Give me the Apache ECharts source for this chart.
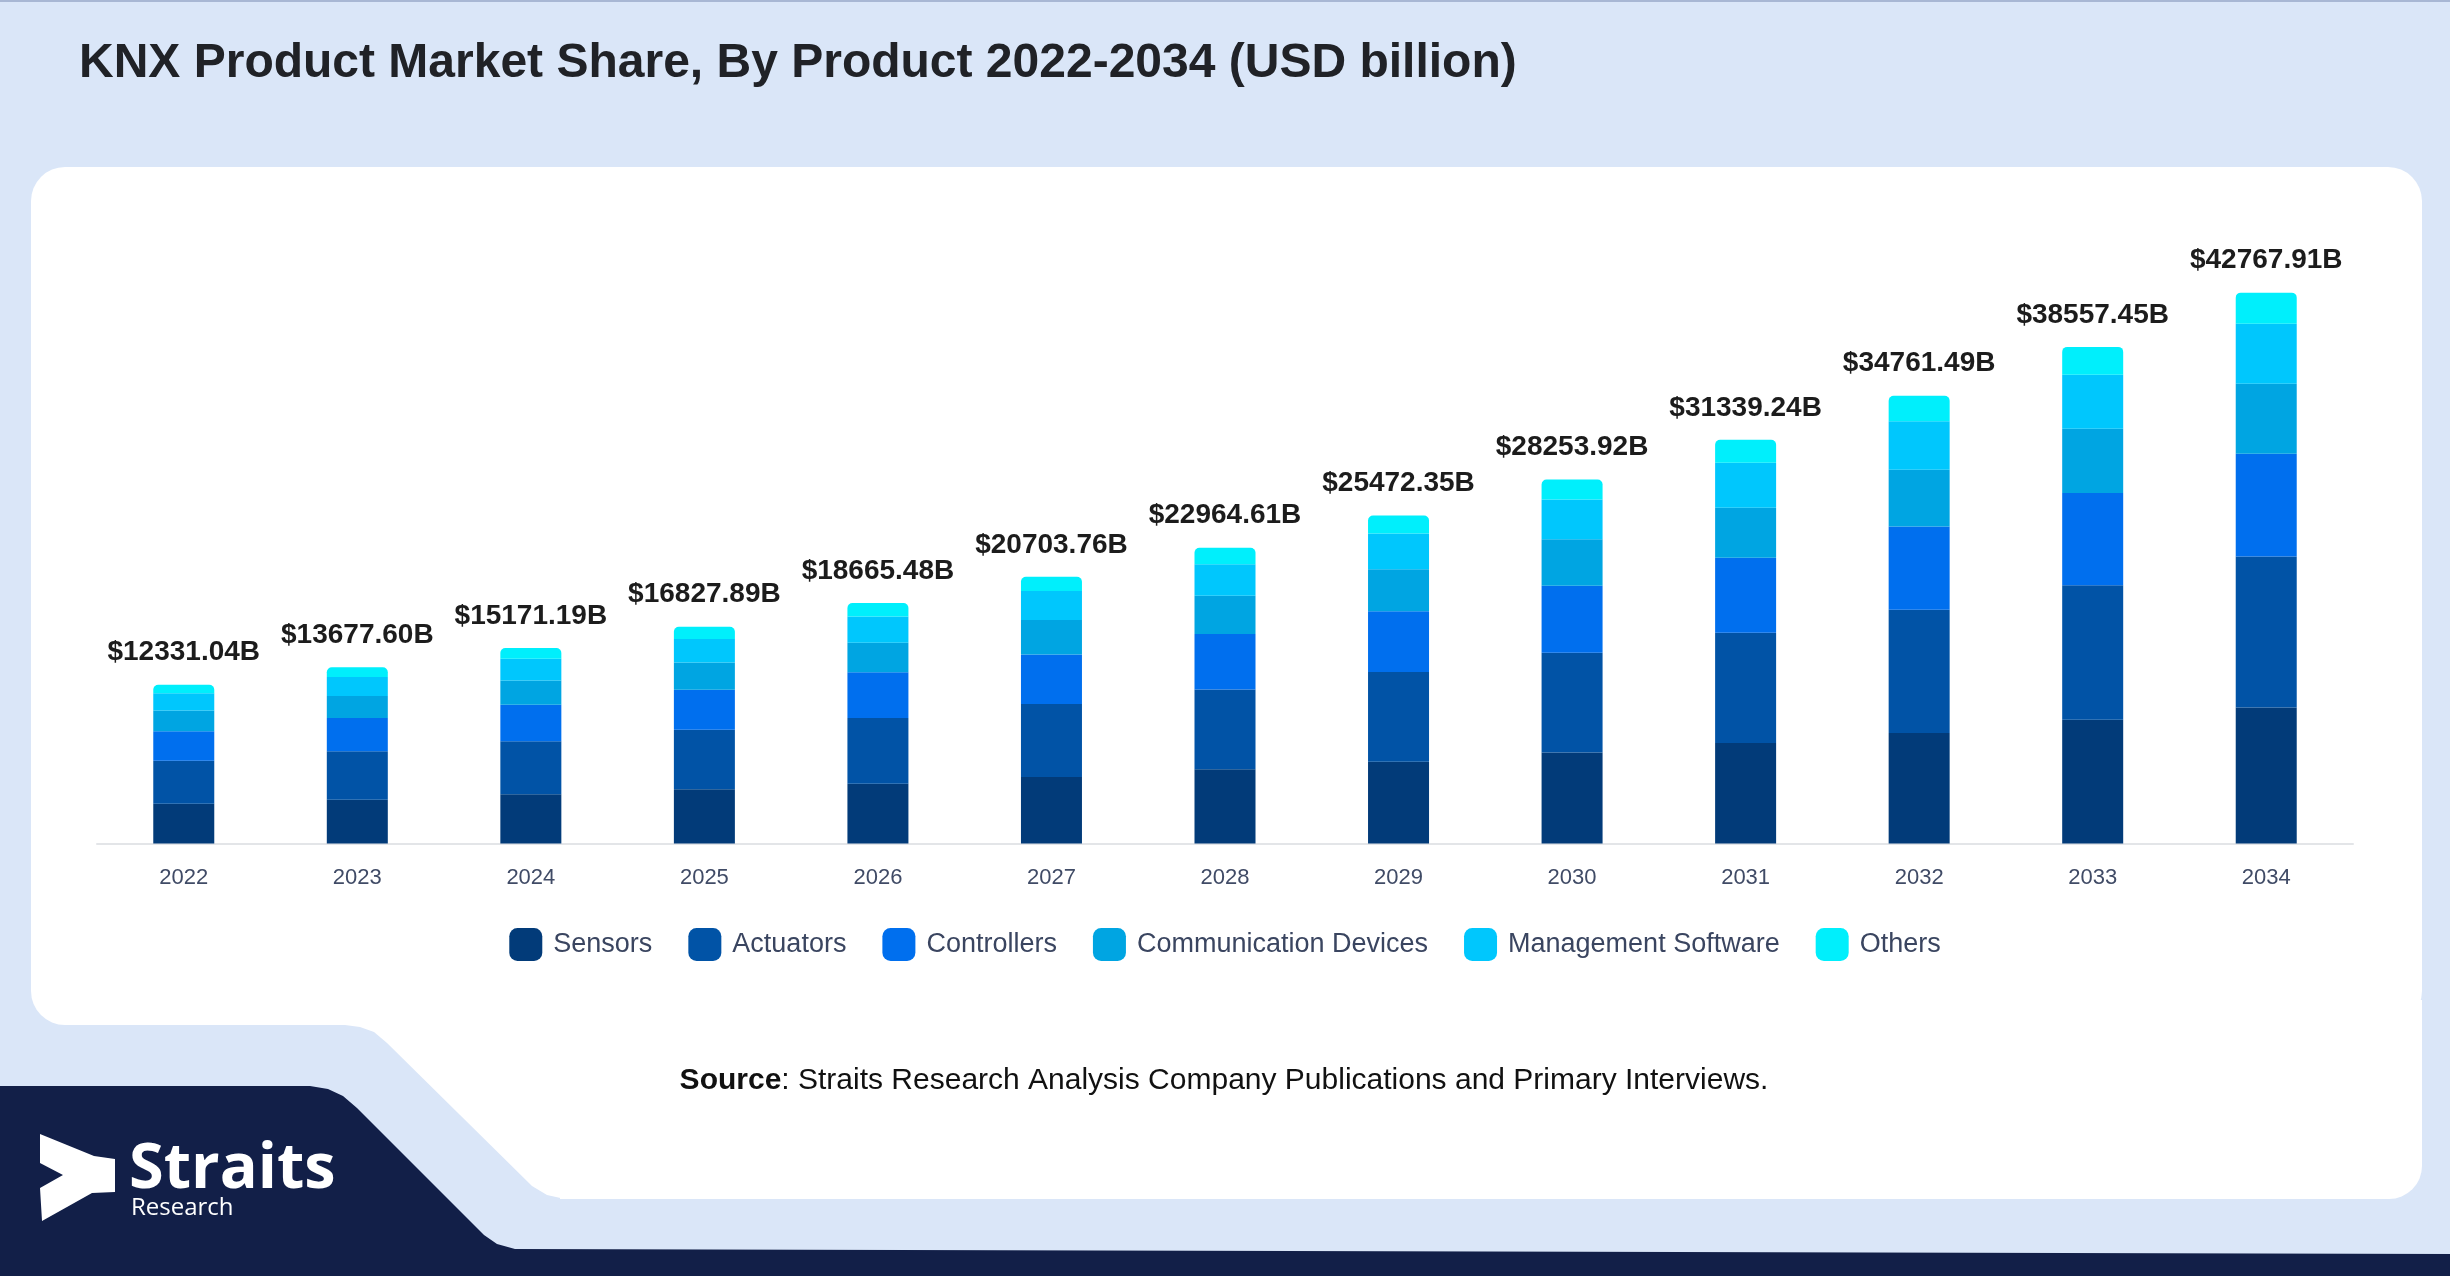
<!DOCTYPE html>
<html>
<head>
<meta charset="utf-8">
<script src="https://cdn.jsdelivr.net/npm/echarts@6/dist/echarts.min.js"></script>
<style>
html,body{margin:0;padding:0;background:#dae6f8;}
#chart{width:2450px;height:1276px;}
</style>
</head>
<body>
<div id="chart"></div>
<script>
const years = ['2022','2023','2024','2025','2026','2027','2028','2029','2030','2031','2032','2033','2034'];
const totals = [12331.04, 13677.60, 15171.19, 16827.89, 18665.48, 20703.76, 22964.61, 25472.35, 28253.92, 31339.24, 34761.49, 38557.45, 42767.91];
const sensors = [3095, 3406, 3823, 4207, 4648, 5155, 5764, 6343, 7063, 7803, 8586, 9601, 10564];
const actuators = [3329, 3748, 4111, 4628, 5096, 5673, 6200, 6979, 7742, 8556, 9559, 10449, 11718];
const controllers = [2294, 2585, 2837, 3096, 3546, 3851, 4294, 4712, 5199, 5829, 6466, 7172, 7976];
const commDevices = [1603, 1710, 1881, 2120, 2296, 2671, 2985, 3260, 3616, 3886, 4415, 4974, 5432];
const mgmtSoftware = [1344, 1477, 1684, 1834, 2035, 2257, 2434, 2776, 3080, 3479, 3754, 4203, 4662];
const others = [666, 752, 835, 943, 1044, 1097, 1288, 1402, 1554, 1786, 1981, 2158, 2416];
const seriesNames = ['Sensors','Actuators','Controllers','Communication Devices','Management Software','Others'];
const seriesData = [sensors, actuators, controllers, commDevices, mgmtSoftware, others];
const colors = ['#023b79','#0153a6','#006fee','#00a5e2','#00c7fd','#00effc'];

const FONT = "'Liberation Sans', Arial, Helvetica, sans-serif";
const LOGO_FONT = "'Open Sans', 'DejaVu Sans', sans-serif";
const chart = echarts.init(document.getElementById('chart'));

const series = seriesNames.map((name, i) => {
  const s = {
    name: name,
    type: 'bar',
    stack: 'total',
    barWidth: 61,
    data: seriesData[i],
    itemStyle: { color: colors[i] },
    emphasis: { disabled: true }
  };
  if (i === seriesNames.length - 1) {
    s.itemStyle.borderRadius = [5, 5, 0, 0];
    s.label = {
      show: true,
      position: 'top',
      distance: 18,
      fontFamily: FONT,
      fontWeight: 'bold',
      fontSize: 28,
      color: '#1c1c1c',
      formatter: p => '$' + totals[p.dataIndex].toFixed(2) + 'B'
    };
  }
  return s;
});

const option = {
  backgroundColor: '#dae6f8',
  animation: false,
  textStyle: { fontFamily: FONT },
  graphic: [
    { type: 'rect', z: -10, shape: { x: 0, y: 0, width: 2450, height: 2 }, style: { fill: '#a8b7d4' } },
    { type: 'rect', z: -10, shape: { x: 31, y: 167, width: 2391, height: 858, r: 34 }, style: { fill: '#ffffff' } },
    { type: 'rect', z: -10, shape: { x: 560, y: 1000, width: 1862, height: 199, r: [0, 0, 33, 0] }, style: { fill: '#ffffff' } },
    { type: 'polygon', z: -10, shape: { points: [[330,1000],[600,1000],[600,1199],[565,1199],[547,1195],[532,1186],[387,1043],[374,1032],[360,1027],[345,1025],[330,1025]] }, style: { fill: '#ffffff' } },
    { type: 'polygon', z: -9, shape: { points: [[0,1086],[310,1086],[328,1089],[343,1096],[357,1108],[484,1235],[497,1244],[515,1249],[2450,1254],[2450,1276],[0,1276]] }, style: { fill: '#121f48' } },
    { type: 'polygon', z: -8, shape: { points: [[40,1134],[94,1156],[115,1159],[115,1192],[92,1193],[42,1221],[40,1188],[63,1175],[40,1163]] }, style: { fill: '#ffffff' } },
    { type: 'text', z: -8, x: 129, y: 1170, style: { text: 'Straits', fill: '#ffffff', fontFamily: LOGO_FONT, fontWeight: 'bold', fontSize: 63, align: 'left', verticalAlign: 'middle' } },
    { type: 'text', z: -8, x: 131, y: 1208, style: { text: 'Research', fill: '#ffffff', fontFamily: LOGO_FONT, fontSize: 24, align: 'left', verticalAlign: 'middle' } },
    { type: 'text', x: 79, y: 64, style: { text: 'KNX Product Market Share, By Product 2022-2034 (USD billion)', fill: '#202227', fontFamily: FONT, fontWeight: 'bold', fontSize: 48, align: 'left', verticalAlign: 'middle' } },
    { type: 'text', x: 1224, y: 1081, style: {
        text: '{b|Source}{r|: Straits Research Analysis Company Publications and Primary Interviews.}',
        align: 'center', verticalAlign: 'middle',
        rich: {
          b: { fontFamily: FONT, fontWeight: 'bold', fontSize: 30, fill: '#111111' },
          r: { fontFamily: FONT, fontSize: 30, fill: '#111111' }
        }
      } }
  ],
  legend: {
    data: seriesNames,
    left: 'center',
    top: 923,
    icon: 'roundRect',
    itemWidth: 33,
    itemHeight: 33,
    itemGap: 36,
    textStyle: { fontFamily: FONT, fontSize: 27, color: '#3a4560', padding: [0, 0, 0, 6] },
    selectedMode: false
  },
  grid: { left: 97, right: 97, top: 199.5, bottom: 432.5, containLabel: false },
  xAxis: {
    type: 'category',
    data: years,
    axisLine: { show: true, lineStyle: { color: '#e3e5e8', width: 2 } },
    axisTick: { show: false },
    axisLabel: { color: '#404b66', fontSize: 22, fontFamily: FONT, margin: 23 },
    splitLine: { show: false }
  },
  yAxis: {
    type: 'value',
    min: 0,
    max: 50000,
    show: false,
    splitLine: { show: false }
  },
  series: series
};
chart.setOption(option);
</script>
</body>
</html>
